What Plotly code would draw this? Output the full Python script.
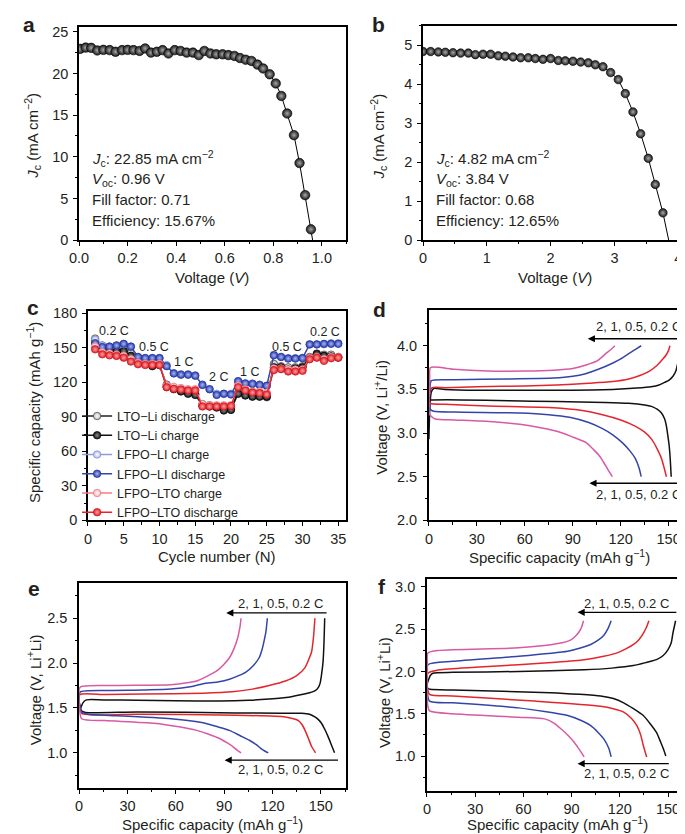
import plotly.graph_objects as go

# ---------- data ----------
# a: JV curve, cell 1
v_a = [0.004, 0.027, 0.05, 0.075, 0.10, 0.126, 0.15, 0.177, 0.20, 0.224, 0.249, 0.272, 0.296, 0.32,
       0.344, 0.368, 0.394, 0.418, 0.443, 0.469, 0.493, 0.516, 0.541, 0.565, 0.591, 0.615, 0.64,
       0.663, 0.686, 0.71, 0.735, 0.758, 0.785, 0.81, 0.833, 0.857, 0.885, 0.908, 0.931, 0.955]
j_a = [22.95, 23.1, 23.07, 22.76, 22.83, 22.8, 22.6, 22.8, 22.83, 22.8, 22.7, 23.0, 22.5, 22.6,
       22.8, 22.4, 22.8, 22.7, 22.5, 22.5, 22.2, 22.7, 22.4, 22.3, 22.3, 22.2, 22.1,
       21.85, 21.65, 21.5, 21.06, 20.6, 19.9, 18.8, 17.3, 15.2, 12.6, 9.25, 5.4, 1.3]
voc_a = 0.962

# b: JV curve, cell 2
v_b = [0.00, 0.12, 0.24, 0.35, 0.47, 0.59, 0.71, 0.82, 0.94, 1.06, 1.18, 1.29, 1.41, 1.53, 1.65,
       1.76, 1.88, 2.00, 2.12, 2.23, 2.35, 2.47, 2.59, 2.70, 2.82, 2.94, 3.06, 3.17, 3.29, 3.41,
       3.53, 3.64, 3.76]
j_b = [4.84, 4.84, 4.83, 4.82, 4.81, 4.80, 4.80, 4.76, 4.77, 4.77, 4.73, 4.72, 4.70, 4.68, 4.68,
       4.66, 4.64, 4.66, 4.61, 4.60, 4.59, 4.57, 4.55, 4.50, 4.45, 4.30, 4.12, 3.76, 3.29, 2.73,
       2.10, 1.43, 0.70]
voc_b = 3.85

# c: rate capability
cycles = list(range(1, 36))
lto_li_dis = [158, 152, 149, 149, 148, 145, 140, 137, 135, 135, 118, 115, 113, 111, 110,
              101, 100, 99, 99, 98, 111, 109, 108, 108, 107, 136, 134, 133, 133, 134,
              142, 145, 144, 144, 142]
lto_li_chg = [156, 150, 147, 147, 147, 143, 138, 136, 134, 135, 116, 114, 112, 110, 109,
              100, 99, 98, 95.5, 96, 110, 108.5, 107.5, 107.5, 107.5, 133, 133, 131, 132, 133,
              141, 144.5, 143, 142.5, 141.5]
lfpo_li_chg = [157, 152, 151, 152, 153, 151, 142, 141, 141, 141, 135, 128, 127, 127, 126,
               118, 114, 110, 110, 110, 121, 119, 119, 118, 117, 144, 142, 141, 141, 141,
               153, 153, 153, 154, 154]
lfpo_li_dis = [154, 150.6, 151, 152, 153.4, 151, 142, 141, 141, 141, 134, 127.7, 126.6, 126.6, 125.7,
               117.7, 114, 109, 110, 109.4, 120.9, 119, 118.6, 117.7, 117, 143.4, 142, 140.6, 140.6, 141,
               152.9, 152.9, 153.4, 153.4, 153.4]
lfpo_lto_chg = [151, 146, 145, 144, 143, 140, 137, 136, 136, 136, 117, 116, 115, 114, 114,
                101, 100, 100, 100, 100, 117, 114, 112, 112, 111, 132, 132, 131, 131, 131,
                141, 142, 140, 142, 142]
lfpo_lto_dis = [148.6, 144.3, 143.4, 142.9, 141.4, 138, 135.7, 135, 135, 135, 115.7, 114.3, 113.7, 112.9, 112.9,
                99, 99, 99, 99, 99.4, 115.7, 112.9, 111.1, 110.6, 109.4, 130.6, 131.4, 129.4, 129.4, 130,
                140, 141.4, 138.6, 140.9, 141.4]
rate_labels = ["0.2 C", "0.5 C", "1 C", "2 C", "1 C", "0.5 C", "0.2 C"]
rate_x = [3.6, 9.2, 13.4, 18.2, 22.6, 27.8, 33.2]
rate_y = [164.5, 150.8, 138, 125, 129, 150.8, 164]

# d: LFPO-Li charge/discharge (0.2, 0.5, 1, 2 C)
d_chg_x = {
    "0.2": [0, 0.6, 1.5, 3, 10, 30, 60, 90, 115, 130, 139, 144, 147.5, 150.5, 152.7, 154.5, 155.7, 157.3, 158.8],
    "0.5": [0, 0.8, 2, 10, 30, 60, 80, 100, 115, 125, 132, 138, 143, 146.5, 148.6, 150, 150.8],
    "1": [0, 0.6, 1.5, 16, 50, 78, 90, 98, 106, 114.8, 120, 125, 129, 132.8],
    "2": [0, 0.5, 1, 16, 37, 60, 78, 90, 98.4, 105.5, 110.7, 114, 116.4],
}
d_chg_v = {
    "0.2": [2.93, 3.3, 3.47, 3.51, 3.50, 3.49, 3.49, 3.49, 3.50, 3.515, 3.53, 3.55, 3.58, 3.61, 3.65, 3.71, 3.80, 3.90, 4.0],
    "0.5": [3.33, 3.48, 3.52, 3.52, 3.53, 3.54, 3.55, 3.57, 3.59, 3.62, 3.66, 3.71, 3.78, 3.85, 3.90, 3.95, 4.0],
    "1": [3.30, 3.5, 3.60, 3.61, 3.62, 3.63, 3.65, 3.68, 3.73, 3.80, 3.85, 3.91, 3.955, 4.0],
    "2": [3.3, 3.6, 3.75, 3.73, 3.71, 3.71, 3.72, 3.74, 3.78, 3.83, 3.91, 3.96, 4.0],
}
d_dis_x = {
    "0.2": [0, 2, 20, 50, 80, 110, 125, 135, 140, 143, 145.5, 147.5, 148.6, 149.5, 150.3, 151, 151.6],
    "0.5": [0, 1, 10, 37, 78, 95, 108.6, 120, 129, 135, 139.3, 142.5, 145.5, 147.2, 148.6],
    "1": [0, 1, 3, 16, 57, 75, 88, 100, 108.6, 115, 121, 126, 129.1, 131.5, 132.8],
    "2": [0, 0.5, 4, 16, 40, 57, 70, 82, 92, 98.4, 103, 106.6, 109.5, 111.7, 114.8],
}
d_dis_v = {
    "0.2": [3.38, 3.38, 3.38, 3.37, 3.36, 3.35, 3.34, 3.32, 3.30, 3.27, 3.23, 3.16, 3.08, 2.97, 2.86, 2.7, 2.5],
    "0.5": [3.40, 3.34, 3.33, 3.31, 3.29, 3.26, 3.21, 3.15, 3.08, 3.01, 2.93, 2.83, 2.71, 2.6, 2.5],
    "1": [3.35, 3.27, 3.25, 3.24, 3.23, 3.21, 3.18, 3.12, 3.05, 2.98, 2.89, 2.79, 2.71, 2.6, 2.5],
    "2": [3.35, 3.21, 3.16, 3.15, 3.13, 3.10, 3.06, 3.01, 2.94, 2.89, 2.81, 2.74, 2.66, 2.59, 2.5],
}

# e: LTO-Li
e_chg_x = {
    "0.2": [1.0, 2.5, 4.5, 15, 36, 60, 87, 105, 118, 130, 138, 143, 146.3, 148.5, 149.6, 150.5, 151.4, 152, 152.4],
    "0.5": [0, 0.6, 16, 40, 77, 95, 107.6, 118, 128, 135, 140.2, 142.7, 144.3, 145.5, 146.3],
    "1": [0, 0.6, 16, 40, 57, 70, 77, 86, 93.3, 99, 103.5, 108, 111.7, 113.5, 114.7, 116, 116.8],
    "2": [0, 0.6, 16, 57, 67, 73, 79, 85.2, 89.5, 93.3, 96.3, 98.4, 99.8, 100.5],
}
e_chg_v = {
    "0.2": [1.50, 1.56, 1.59, 1.59, 1.585, 1.58, 1.577, 1.585, 1.60, 1.62, 1.65, 1.67, 1.69, 1.73, 1.78, 1.88, 2.02, 2.25, 2.5],
    "0.5": [1.57, 1.65, 1.65, 1.655, 1.665, 1.68, 1.71, 1.75, 1.80, 1.86, 1.95, 2.05, 2.13, 2.3, 2.5],
    "1": [1.57, 1.676, 1.694, 1.70, 1.71, 1.74, 1.77, 1.79, 1.82, 1.86, 1.90, 1.97, 2.06, 2.15, 2.24, 2.36, 2.5],
    "2": [1.57, 1.73, 1.75, 1.76, 1.78, 1.80, 1.85, 1.91, 1.98, 2.06, 2.17, 2.28, 2.4, 2.5],
}
e_dis_x = {
    "0.2": [0, 1.5, 4, 36, 97, 125, 138, 143, 146.3, 148.5, 150.4, 152.5, 154.5, 156.5, 158.5],
    "0.5": [0, 1.6, 36, 97, 128, 133, 136.1, 138.5, 140.2, 142.3, 144.3, 146.7],
    "1": [0, 1.6, 6, 16, 57, 77, 86, 93.3, 100, 105.6, 110, 112.7, 115.2, 117.4],
    "2": [0, 1.6, 16, 46.5, 62, 73, 80, 87.2, 92, 95.4, 98, 100.5],
}
e_dis_v = {
    "0.2": [1.57, 1.47, 1.45, 1.456, 1.445, 1.44, 1.44, 1.43, 1.40, 1.37, 1.33, 1.26, 1.18, 1.09, 1.0],
    "0.5": [1.57, 1.44, 1.43, 1.42, 1.40, 1.38, 1.36, 1.31, 1.25, 1.16, 1.07, 1.0],
    "1": [1.57, 1.456, 1.43, 1.42, 1.38, 1.335, 1.29, 1.25, 1.19, 1.14, 1.09, 1.05, 1.02, 1.0],
    "2": [1.57, 1.38, 1.36, 1.33, 1.29, 1.25, 1.21, 1.16, 1.11, 1.07, 1.03, 1.0],
}

# f: LFPO-LTO
f_chg_x = {
    "0.2": [0, 0.6, 2, 3.7, 16, 57, 98, 115, 128.5, 137, 142.8, 147, 150, 152, 153, 154.7],
    "0.5": [0, 0.6, 7.8, 30, 57, 80, 97.8, 110, 118.3, 124, 128.5, 132, 134.6, 136.5, 138.1],
    "1": [0, 0.6, 16, 57, 87.6, 96, 101.9, 106.5, 110.1, 112.7, 114.6],
    "2": [0, 0.3, 0.6, 7.8, 57, 81.4, 89.6, 92.5, 94.7, 96.3, 97.4],
}
f_chg_v = {
    "0.2": [1.85, 1.88, 1.95, 1.98, 1.99, 2.0, 2.02, 2.04, 2.07, 2.11, 2.14, 2.19, 2.26, 2.34, 2.45, 2.6],
    "0.5": [1.85, 1.98, 2.02, 2.05, 2.08, 2.11, 2.14, 2.18, 2.22, 2.27, 2.32, 2.38, 2.45, 2.52, 2.6],
    "1": [1.85, 2.08, 2.12, 2.18, 2.24, 2.28, 2.32, 2.37, 2.43, 2.51, 2.6],
    "2": [1.85, 2.05, 2.22, 2.25, 2.28, 2.33, 2.375, 2.42, 2.47, 2.53, 2.6],
}
f_dis_x = {
    "0.2": [0, 0.5, 2, 16, 77, 95, 108, 116, 122.4, 128.5, 134.6, 139, 142.8, 145.5, 147.2, 148.6],
    "0.5": [0, 1.6, 16, 67, 108, 116, 122.4, 127, 130.6, 133, 134.6, 136.7],
    "1": [0, 1.6, 16, 57, 87.6, 96, 101.9, 106.5, 110.1, 113.2, 114.6],
    "2": [0, 0.5, 1.6, 16, 56.9, 73.2, 79, 83.5, 88, 91.7, 94, 95.8, 97.8],
}
f_dis_v = {
    "0.2": [1.85, 1.80, 1.79, 1.78, 1.75, 1.73, 1.71, 1.68, 1.63, 1.56, 1.48, 1.38, 1.28, 1.16, 1.08, 1.0],
    "0.5": [1.85, 1.73, 1.71, 1.65, 1.59, 1.56, 1.52, 1.45, 1.36, 1.25, 1.125, 0.99],
    "1": [1.85, 1.65, 1.63, 1.57, 1.48, 1.42, 1.36, 1.28, 1.20, 1.09, 0.99],
    "2": [1.85, 1.6, 1.535, 1.50, 1.46, 1.44, 1.39, 1.32, 1.24, 1.16, 1.10, 1.05, 0.99],
}

# ---------- style ----------
W, H = 685, 834
FONT = "Liberation Sans, Arial, Helvetica, sans-serif"
TXT = "#231f20"
FS = 15
TICK_FS = 14.5
RATE_COLORS = {"0.2": "#111111", "0.5": "#e3262e", "1": "#3346a8", "2": "#d85aa5"}


def px(x):
    return x / W


def py(y):
    return 1 - y / H


def axis(dom, anchor, rng, dtick, minor, fmt=None, standoff=0):
    return dict(domain=dom, anchor=anchor, range=rng, tick0=0, dtick=dtick, tickformat=fmt,
                showline=True, mirror=True, linecolor="black", linewidth=1.6,
                ticks="outside", ticklen=4, tickwidth=1.3, tickcolor="black", ticklabelstandoff=standoff,
                minor=dict(ticks="outside", ticklen=2.5, tickwidth=1, tickcolor="black", dtick=minor, tick0=0),
                showgrid=False, zeroline=False, tickfont=dict(size=TICK_FS, color=TXT, family=FONT))


fig = go.Figure()

# a
fig.add_scatter(x=v_a + [voc_a], y=j_a + [0], mode="lines", line=dict(color="black", width=1),
                xaxis="x", yaxis="y", showlegend=False)
fig.add_scatter(x=v_a, y=j_a, mode="markers", xaxis="x", yaxis="y", showlegend=False,
                marker=dict(size=9.5, color="#1a1a1a", line=dict(color="black", width=0.6),
                            gradient=dict(type="radial", color="#a8a8a8")))
# b
fig.add_scatter(x=v_b + [voc_b], y=j_b + [0], mode="lines", line=dict(color="black", width=1),
                xaxis="x2", yaxis="y2", showlegend=False)
fig.add_scatter(x=v_b, y=j_b, mode="markers", xaxis="x2", yaxis="y2", showlegend=False,
                marker=dict(size=8.5, color="#1a1a1a", line=dict(color="black", width=0.6),
                            gradient=dict(type="radial", color="#a8a8a8")))

# c
c_series = [
    ("LTO−Li discharge", lto_li_dis, "#222222", "#b8b8b8", "#ffffff", "#444444"),
    ("LTO−Li charge", lto_li_chg, "#111111", "#151515", "#8a8a8a", "#000000"),
    ("LFPO−LI charge", lfpo_li_chg, "#8d9bd8", "#aeb8e8", "#ffffff", "#7f8fd0"),
    ("LFPO−LI discharge", lfpo_li_dis, "#3346a8", "#2c40b0", "#a9b6f2", "#22349a"),
    ("LFPO−LTO charge", lfpo_lto_chg, "#f27c82", "#f4b3b6", "#ffffff", "#ee7078"),
    ("LFPO−LTO discharge", lfpo_lto_dis, "#e8232b", "#e01f28", "#ffa0a0", "#c81820"),
]
for name, vals, lc, mc, gc, ec in c_series:
    fig.add_scatter(x=cycles, y=vals, name=name, mode="lines+markers", xaxis="x3", yaxis="y3",
                    line=dict(color=lc, width=1.3),
                    marker=dict(size=7.5, color=mc, line=dict(color=ec, width=0.7),
                                gradient=dict(type="radial", color=gc)))

# d, e, f
for xa, ya, cx, cv, dx, dv in [("x4", "y4", d_chg_x, d_chg_v, d_dis_x, d_dis_v),
                               ("x5", "y5", e_chg_x, e_chg_v, e_dis_x, e_dis_v),
                               ("x6", "y6", f_chg_x, f_chg_v, f_dis_x, f_dis_v)]:
    for rate in ["0.2", "0.5", "1", "2"]:
        for xs, vs in [(cx[rate], cv[rate]), (dx[rate], dv[rate])]:
            fig.add_scatter(x=xs, y=vs, mode="lines", xaxis=xa, yaxis=ya, showlegend=False,
                            line=dict(color=RATE_COLORS[rate], width=1.5, shape="spline", smoothing=0.6))

# ---------- layout ----------
boxes = {  # left, right, top, bottom in px
    "a": (62, 333, 13, 230), "b": (411, 683, 12, 230), "c": (71, 333, 302, 515),
    "d": (417, 683, 301, 515), "e": (62, 333, 579, 787), "f": (415, 683, 575, 790),
}


def dom_x(k):
    return [px(boxes[k][0]), px(boxes[k][1])]


def dom_y(k):
    return [py(boxes[k][3]), py(boxes[k][2])]


fig.update_layout(
    width=W, height=H, margin=dict(l=0, r=0, t=0, b=0),
    paper_bgcolor="white", plot_bgcolor="white",
    font=dict(family=FONT, size=FS, color=TXT),
    xaxis=axis(dom_x("a"), "y", [0, 1.1], 0.2, 0.1, ".1f"),
    yaxis=axis(dom_y("a"), "x", [0, 25.6], 5, 2.5, standoff=2),
    xaxis2=axis(dom_x("b"), "y2", [0, 4.2], 1, 0.5),
    yaxis2=axis(dom_y("b"), "x2", [0, 5.5], 1, 0.5, standoff=2),
    xaxis3=axis(dom_x("c"), "y3", [0, 36.1], 5, 2.5),
    yaxis3=axis(dom_y("c"), "x3", [0, 182], 30, 15, standoff=2),
    xaxis4=axis(dom_x("d"), "y4", [0, 164], 30, 15),
    yaxis4=axis(dom_y("d"), "x4", [2.0, 4.41], 0.5, 0.25, ".1f", standoff=3),
    xaxis5=axis(dom_x("e"), "y5", [0, 165.7], 30, 15),
    yaxis5=axis(dom_y("e"), "x5", [0.61, 2.89], 0.5, 0.25, ".1f", standoff=3),
    xaxis6=axis(dom_x("f"), "y6", [0, 164.3], 30, 15),
    yaxis6=axis(dom_y("f"), "x6", [0.59, 3.09], 0.5, 0.25, ".1f", standoff=3),
    legend=dict(x=px(60), y=py(394), xanchor="left", yanchor="top", bgcolor="rgba(0,0,0,0)",
                font=dict(size=12.5, color=TXT, family=FONT), itemwidth=30, tracegroupgap=0),
)

anns = []


def note(text, x, y, size=FS, xanchor="center", yanchor="middle", angle=0, bold=False):
    anns.append(dict(text=f"<b>{text}</b>" if bold else text, x=px(x), y=py(y), xref="paper", yref="paper",
                     showarrow=False, xanchor=xanchor, yanchor=yanchor, textangle=angle,
                     font=dict(size=size, color=TXT, family=FONT)))


# panel letters
for letter, x, y in [("a", 3, 11), ("b", 357, 11), ("c", 7, 299), ("d", 358, 301), ("e", 8, 584), ("f", 363, 582)]:
    note(letter, x, y, size=21, xanchor="left", bold=True)

# axis titles
jc = "<i>J</i><sub>c</sub> (mA cm<sup>−2</sup>)"
note(jc, 15, 124, angle=-90)
note("Voltage (<i>V</i>)", 197, 268)
note(jc, 366, 125, angle=-90)
note("Voltage (<i>V</i>)", 545, 268)
note("Specific capacity (mAh g<sup>−1</sup>)", 15, 405, angle=-90)
note("Cycle number (N)", 202, 552)
note("Voltage (V, Li<sup>+</sup>/Li)", 367, 410, angle=-90)
note("Specific capacity (mAh g<sup>−1</sup>)", 550, 552)
note("Voltage (V, Li<sup>+</sup>Li)", 16, 687, angle=-90)
note("Specific capacity (mAh g<sup>−1</sup>)", 197, 823)
note("Voltage (V, Li<sup>+</sup>Li)", 371, 690, angle=-90)
note("Specific capacity (mAh g<sup>−1</sup>)", 547, 823)

# cell parameters
for x0, lines in [(73, ["<i>J</i><sub>c</sub>: 22.85 mA cm<sup>−2</sup>", "<i>V</i><sub>oc</sub>: 0.96 V",
                        "Fill factor: 0.71", "Efficiency: 15.67%"]),
                  (422, ["<i>J</i><sub>c</sub>: 4.82 mA cm<sup>−2</sup>", "<i>V</i><sub>oc</sub>: 3.84 V",
                         "Fill factor: 0.68", "Efficiency: 12.65%"])]:
    for line, y in zip(lines, [147, 168, 189, 210]):
        note(line, x0, y, xanchor="left")

# rate labels in c
for t, x, y in zip(rate_labels, rate_x, rate_y):
    anns.append(dict(text=t, x=x, y=y, xref="x3", yref="y3", showarrow=False,
                     font=dict(size=12.5, color=TXT, family=FONT)))

# arrows and rate-order labels in d, e, f
arrow_specs = [  # axis, tail x, head x, arrow y, label right x, label y
    ("4", 159.8, 99.4, 4.08, 158.8, 4.22), ("4", 159.8, 100.4, 2.425, 158.8, 2.30),
    ("5", 154.5, 91.3, 2.56, 152.4, 2.67), ("5", 161.6, 90.3, 0.918, 152.4, 0.81),
    ("6", 156.1, 93.7, 2.70, 152.0, 2.81), ("6", 151.4, 93.7, 0.91, 152.0, 0.79),
]
for k, tail, head, ya, lx, ly in arrow_specs:
    anns.append(dict(text="", x=head, y=ya, ax=tail, ay=ya, xref="x" + k, yref="y" + k,
                     axref="x" + k, ayref="y" + k, showarrow=True, arrowhead=2, arrowsize=1.1,
                     arrowwidth=1.3, arrowcolor="black", standoff=0, startstandoff=0))
    anns.append(dict(text="2, 1, 0.5, 0.2 C", x=lx, y=ly, xref="x" + k, yref="y" + k, showarrow=False,
                     xanchor="right", font=dict(size=13, color=TXT, family=FONT)))

fig.update_layout(annotations=anns)
fig.write_html("out.html")
